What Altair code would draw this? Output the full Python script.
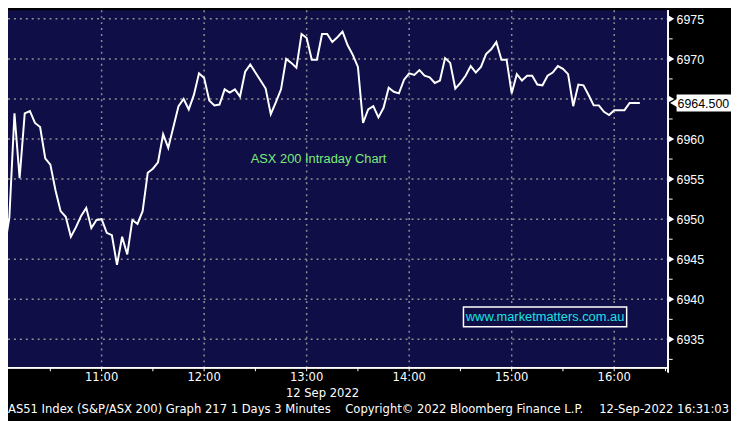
import altair as alt
import pandas as pd

# ASX 200 intraday, 3-minute bars from 10:00 on 12 Sep 2022
values = [
    6931.8, 6946.2, 6950.2, 6963.2, 6955.1, 6963.2, 6963.5, 6962.0, 6961.5, 6957.6,
    6956.8, 6953.6, 6951.0, 6950.3, 6947.8, 6949.0, 6950.4, 6951.4, 6948.9, 6949.9,
    6950.0, 6948.3, 6948.0, 6944.3, 6947.8, 6945.6, 6949.9, 6949.4, 6951.0, 6955.8,
    6956.3, 6957.1, 6960.6, 6958.9, 6961.5, 6964.1, 6965.0, 6963.7, 6965.5, 6968.2,
    6967.6, 6964.8, 6964.2, 6964.3, 6966.2, 6965.8, 6966.2, 6965.3, 6968.4, 6969.3,
    6968.3, 6967.3, 6966.3, 6963.1, 6964.6, 6966.2, 6970.0, 6969.5, 6968.9, 6973.1,
    6972.6, 6969.9, 6969.9, 6973.1, 6973.1, 6972.1, 6972.7, 6973.4, 6971.7, 6970.5,
    6969.0, 6962.0, 6963.7, 6964.1, 6962.7, 6963.9, 6966.4, 6965.9, 6965.7, 6967.4,
    6968.2, 6968.0, 6968.6, 6967.9, 6967.7, 6967.0, 6967.3, 6970.1, 6969.5, 6966.3,
    6967.0, 6967.9, 6969.1, 6968.3, 6969.0, 6970.6, 6971.2, 6972.1, 6969.9, 6969.9,
    6965.7, 6968.1, 6967.3, 6967.9, 6967.9, 6966.8, 6966.7, 6967.9, 6968.3, 6969.1,
    6968.75, 6968.1, 6964.1, 6966.8, 6966.7, 6965.5, 6964.2, 6964.2, 6963.4, 6963.0,
    6963.6, 6963.6, 6963.6, 6964.5, 6964.5, 6964.5,
]
bar_minutes = 3
minutes = [i * bar_minutes for i in range(len(values))]  # minutes since 10:00

x_major = [60, 120, 180, 240, 300, 360]           # minutes since 10:00
x_labels = ["11:00", "12:00", "13:00", "14:00", "15:00", "16:00"]
x_minor = [30, 90, 150, 210, 270, 330, 390]       # half hours
y_major = [6935, 6940, 6945, 6950, 6955, 6960, 6965, 6970, 6975]
y_labels = ["6935", "6940", "6945", "6950", "6955", "6960", "6965", "6970", "6975"]
y_minor = [6932.5, 6937.5, 6942.5, 6947.5, 6952.5, 6957.5, 6962.5, 6967.5, 6972.5]

title_text = ["ASX 200 Intraday Chart"]
web_text = ["www.marketmatters.com.au"]
date_text = ["12 Sep 2022"]
footer_left = ["AS51 Index (S&P/ASX 200) Graph 217 1 Days 3 Minutes"]
footer_mid = ["Copyright\u00a9 2022 Bloomberg Finance L.P."]
footer_right = ["12-Sep-2022 16:31:03"]

NAVY = "#0F0E46"
GRID = "#8f8f8f"
AX_FONT = "DejaVu Sans Condensed"
W, H = 667, 361

df = pd.DataFrame({"minute": minutes, "value": values})
last = pd.DataFrame({"minute": [minutes[-1]], "value": [values[-1]]})
xmaj = pd.DataFrame({"m": x_major, "lbl": x_labels})
xmin = pd.DataFrame({"m": x_minor})
ymaj = pd.DataFrame({"v": y_major, "lbl": y_labels})
ymin = pd.DataFrame({"v": y_minor})

x_scale = alt.Scale(domain=[5.21, 391.3], nice=False, zero=False)
y_scale = alt.Scale(domain=[6931.51, 6976.07], nice=False, zero=False)


def X(field):
    return alt.X(field, scale=x_scale, axis=None)


def Y(field):
    return alt.Y(field, scale=y_scale, axis=None)


# grid
y_grid = alt.Chart(ymaj).mark_rule(color=GRID, strokeWidth=1.5, strokeDash=[2, 4]).encode(
    y=Y("v:Q"), x=alt.value(0), x2=alt.value(W))
x_grid = alt.Chart(xmaj).mark_rule(color=GRID, strokeWidth=1.5, strokeDash=[2, 4]).encode(
    x=X("m:Q"), y=alt.value(0), y2=alt.value(H))

line = alt.Chart(df).mark_line(color="white", strokeWidth=2, clip=True).encode(
    x=X("minute:Q"), y=Y("value:Q"))

# x axis
x_domain = alt.Chart(xmaj).mark_rule(color="white", strokeWidth=1).encode(
    x=alt.value(0), x2=alt.value(W + 1), y=alt.value(H + 0.5))
x_ticks = alt.Chart(xmaj).mark_rule(color="white", strokeWidth=1).encode(
    x=X("m:Q"), y=alt.value(H), y2=alt.value(H + 4))
x_mticks = alt.Chart(xmin).mark_rule(color="white", strokeWidth=1).encode(
    x=X("m:Q"), y=alt.value(H), y2=alt.value(H + 4))
x_text = alt.Chart(xmaj).mark_text(
    align="center", baseline="top", font=AX_FONT, fontSize=13, color="white").encode(
    x=X("m:Q"), y=alt.value(H + 4), text="lbl:N")

# y axis (right)
y_domain = alt.Chart(ymaj).mark_rule(color="white", strokeWidth=1).encode(
    x=alt.value(W + 0.5), y=alt.value(0), y2=alt.value(H + 5))
y_mticks = alt.Chart(ymin).mark_rule(color="white", strokeWidth=1).encode(
    y=Y("v:Q"), x=alt.value(W), x2=alt.value(W + 5))
y_ticks = alt.Chart(ymaj).mark_point(
    shape="triangle-right", filled=True, color="white", size=38, opacity=1).encode(
    y=Y("v:Q"), x=alt.value(W + 4))
# the tick label hidden behind the last-price box is not shown
y_text = alt.Chart(ymaj).transform_filter(
    f"abs(datum.v - {values[-1]}) > 1.5"
).mark_text(
    align="left", baseline="middle", font="Liberation Sans", fontSize=12.5,
    color="white", dy=1).encode(
    y=Y("v:Q"), x=alt.value(W + 9), text="lbl:N")

# last price label
price_box = alt.Chart(last).transform_calculate(
    hi="datum.value + 1.05", lo="datum.value - 1.05"
).mark_rect(color="white").encode(
    x=alt.value(W + 9), x2=alt.value(731), y=Y("hi:Q"), y2="lo:Q")
price_arrow = alt.Chart(last).mark_point(
    shape="triangle-left", filled=True, color="white", size=110, opacity=1
).encode(x=alt.value(W + 7), y=Y("value:Q"))
price_text = alt.Chart(last).transform_calculate(
    lbl="format(datum.value, '.3f')"
).mark_text(align="left", baseline="middle", font="Liberation Sans",
            fontSize=12.5, color="black", dy=1).encode(
    x=alt.value(W + 10), y=Y("value:Q"), text="lbl:N")

ann = alt.Chart(pd.DataFrame({"t": title_text})).mark_text(
    align="center", baseline="middle", font="Liberation Sans", fontSize=13,
    color="#7BEA7B"
).encode(x=alt.value(314), y=alt.value(150), text="t:N")

web_box = alt.Chart(pd.DataFrame({"t": web_text})).mark_rect(
    fill=NAVY, stroke="white", strokeWidth=1.5
).encode(x=alt.value(460.5), x2=alt.value(625.5), y=alt.value(300), y2=alt.value(320))
web = alt.Chart(pd.DataFrame({"t": web_text})).mark_text(
    align="center", baseline="middle", font="Liberation Sans", fontSize=13,
    color="#19E3E3"
).encode(x=alt.value(543), y=alt.value(310.5), text="t:N")

date_lbl = alt.Chart(pd.DataFrame({"t": date_text})).mark_text(
    align="center", baseline="middle", font=AX_FONT, fontSize=13, color="white"
).encode(x=alt.value(318), y=alt.value(387), text="t:N")

f1 = alt.Chart(pd.DataFrame({"t": footer_left})).mark_text(
    align="left", baseline="middle", font=AX_FONT, fontSize=13, color="white"
).encode(x=alt.value(0), y=alt.value(403), text="t:N")
f2 = alt.Chart(pd.DataFrame({"t": footer_mid})).mark_text(
    align="left", baseline="middle", font=AX_FONT, fontSize=13, color="white"
).encode(x=alt.value(341), y=alt.value(403), text="t:N")
f3 = alt.Chart(pd.DataFrame({"t": footer_right})).mark_text(
    align="right", baseline="middle", font=AX_FONT, fontSize=13, color="white"
).encode(x=alt.value(729), y=alt.value(403), text="t:N")

chart = alt.layer(
    y_grid, x_grid, line,
    x_domain, x_ticks, x_mticks, x_text,
    y_domain, y_mticks, y_ticks, y_text,
    price_box, price_arrow, price_text,
    ann, web_box, web, date_lbl, f1, f2, f3,
).properties(
    width=W, height=H, background="black",
    padding={"left": 0, "top": 0, "right": 64, "bottom": 52},
    autosize=alt.AutoSizeParams(type="none"),
).configure_view(fill=NAVY, stroke=None)

chart.save("out.html", embed_options={"renderer": "svg", "actions": False})
